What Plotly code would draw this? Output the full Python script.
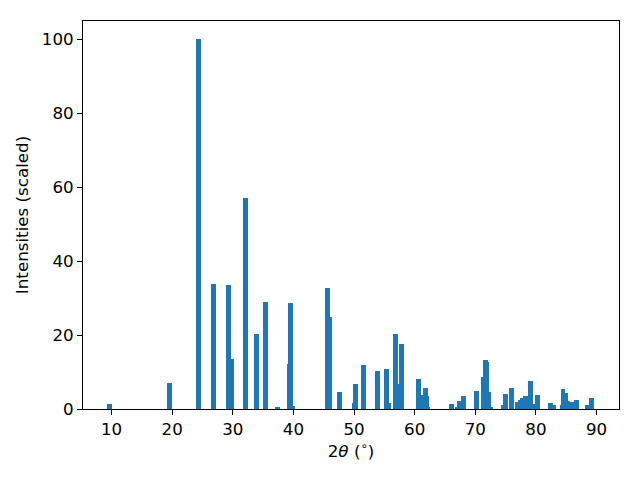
import plotly.graph_objects as go

two_theta = [9.69, 19.59, 24.4, 26.86, 29.35, 29.82, 32.12, 33.93, 35.42, 37.4,
             39.32, 39.48, 39.81, 45.66, 45.99, 47.64, 50.11, 50.28, 51.6, 53.91,
             55.4, 55.73, 56.89, 57.4, 57.88, 60.68, 61.0, 61.17, 61.8, 61.98,
             62.15, 66.03, 67.09, 67.42, 68.08, 70.23, 71.38, 71.71, 71.87, 72.21,
             72.53, 74.68, 75.01, 76.0, 76.99, 77.48, 77.81, 78.31, 79.13, 79.46,
             80.32, 82.46, 82.96, 84.29, 84.46, 84.9, 85.24, 85.95, 86.72, 88.53,
             89.19]
intensities = [1.3, 7.0, 100.0, 33.9, 33.6, 13.5, 57.0, 20.3, 29.0, 0.4,
               12.1, 28.7, 0.7, 32.8, 25.0, 4.5, 1.6, 6.7, 11.9, 10.3,
               10.8, 1.6, 20.3, 6.7, 17.6, 8.1, 3.8, 1.1, 5.7, 3.5,
               0.5, 1.4, 0.5, 2.2, 3.5, 4.9, 8.7, 13.3, 12.8, 4.6,
               0.3, 1.1, 4.1, 5.7, 1.9, 2.4, 3.0, 3.5, 7.6, 1.4,
               3.8, 1.6, 1.1, 1.1, 5.4, 4.3, 2.2, 1.9, 2.4, 1.1,
               3.0]
x_ticks = [10, 20, 30, 40, 50, 60, 70, 80, 90]
y_ticks = [0, 20, 40, 60, 80, 100]

fig = go.Figure(go.Bar(x=two_theta, y=intensities, width=0.8,
                       marker=dict(color="#1f77b4", line=dict(width=0))))

font = dict(family="DejaVu Sans", size=16.7, color="black")
axis_common = dict(showgrid=False, zeroline=False, showline=True, linecolor="black",
                   linewidth=1, mirror=True, ticks="outside", ticklen=5, tickwidth=1,
                   tickcolor="black", tickfont=font, automargin=False)

# page body has an 8px margin: shrink the figure and shift left/top margins
fig.update_layout(
    width=632, height=472,
    margin=dict(l=75, r=21, t=13, b=71),
    plot_bgcolor="white", paper_bgcolor="white",
    showlegend=False, font=font, bargap=0,
    xaxis=dict(range=[5.3, 93.7], tickvals=x_ticks,
               title=dict(text="2<i>θ</i> (<sup>∘</sup>)", font=font, standoff=6),
               **axis_common),
    yaxis=dict(range=[0, 105], tickvals=y_ticks,
               title=dict(text="Intensities (scaled)", font=font, standoff=8),
               **axis_common),
)

fig.write_html("out.html")
